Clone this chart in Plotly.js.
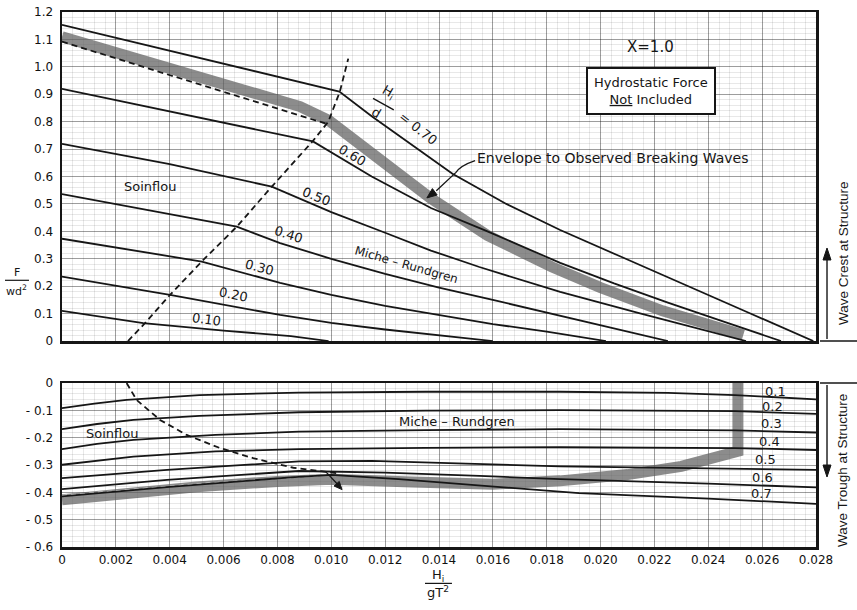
<!DOCTYPE html>
<html><head><meta charset="utf-8">
<script src="https://cdn.plot.ly/plotly-3.0.1.min.js"></script>
<style>html,body{margin:0;padding:0;background:#fff}#chart{width:857px;height:610px}</style>
</head><body><div id="chart"></div>
<script>
// ---------- DATA ----------
// Upper panel: wave crest at structure, F/wd^2 vs Hi/gT^2 for Hi/d values
const crest010X = [0, 0.00302, 0.006, 0.0085, 0.0099];
const crest010Y = [0.110, 0.065, 0.038, 0.018, 0.0];
const crest020X = [0, 0.00401, 0.0081, 0.010, 0.012, 0.014, 0.016];
const crest020Y = [0.235, 0.168, 0.095, 0.066, 0.042, 0.020, 0.0];
const crest030X = [0, 0.00519, 0.0081, 0.010, 0.012, 0.014, 0.016, 0.018, 0.0192, 0.0202];
const crest030Y = [0.373, 0.290, 0.212, 0.168, 0.128, 0.094, 0.062, 0.034, 0.016, 0.0];
const crest040X = [0, 0.00649, 0.0081, 0.010, 0.012, 0.014, 0.016, 0.0185, 0.0205, 0.0225];
const crest040Y = [0.536, 0.417, 0.357, 0.300, 0.245, 0.195, 0.150, 0.092, 0.045, 0.0];
const crest050X = [0, 0.004, 0.00779, 0.010, 0.012, 0.0137, 0.0155, 0.0185, 0.0215, 0.0235, 0.0254];
const crest050Y = [0.719, 0.645, 0.563, 0.470, 0.395, 0.330, 0.270, 0.179, 0.100, 0.050, 0.0];
const crest060X = [0, 0.00932, 0.0115, 0.0137, 0.0158, 0.0185, 0.0205, 0.0225, 0.0246, 0.0267];
const crest060Y = [0.920, 0.728, 0.600, 0.485, 0.400, 0.285, 0.210, 0.140, 0.070, 0.0];
const crest070X = [0, 0.0103, 0.0115, 0.013, 0.0145, 0.0165, 0.0185, 0.0207, 0.023, 0.0255, 0.0279];
const crest070Y = [1.153, 0.910, 0.820, 0.715, 0.610, 0.500, 0.405, 0.310, 0.210, 0.103, 0.0];
const crestEnvX = [0, 0.003, 0.006, 0.00884, 0.0099, 0.0115, 0.0137, 0.0158, 0.0182, 0.020, 0.0223, 0.024, 0.0253];
const crestEnvY = [1.110, 1.025, 0.940, 0.855, 0.805, 0.685, 0.520, 0.385, 0.270, 0.195, 0.110, 0.060, 0.022];
const crestSoinEnvX = [0, 0.0099];
const crestSoinEnvY = [1.092, 0.790];
const crestLimitX = [0.00245, 0.00308, 0.00401, 0.00519, 0.00649, 0.00779, 0.00932, 0.00989, 0.01032, 0.01063];
const crestLimitY = [0, 0.065, 0.168, 0.290, 0.417, 0.563, 0.730, 0.800, 0.910, 1.030];

// Lower panel: wave trough at structure
const trough01X = [0, 0.0012, 0.0024, 0.0051, 0.0088, 0.0135, 0.0185, 0.0225, 0.025, 0.028];
const trough01Y = [-0.092, -0.075, -0.062, -0.044, -0.035, -0.032, -0.032, -0.036, -0.044, -0.060];
const trough02X = [0, 0.0013, 0.00265, 0.0051, 0.0088, 0.0135, 0.0185, 0.025, 0.028];
const trough02Y = [-0.169, -0.150, -0.135, -0.120, -0.107, -0.101, -0.099, -0.103, -0.113];
const trough03X = [0, 0.0013, 0.00265, 0.0057, 0.0088, 0.0135, 0.0185, 0.025, 0.028];
const trough03Y = [-0.242, -0.223, -0.208, -0.190, -0.178, -0.172, -0.169, -0.173, -0.181];
const trough04X = [0, 0.00265, 0.0057, 0.0088, 0.0135, 0.0185, 0.025, 0.028];
const trough04Y = [-0.299, -0.269, -0.250, -0.242, -0.237, -0.235, -0.238, -0.245];
const trough05X = [0, 0.0039, 0.0088, 0.0115, 0.015, 0.0185, 0.024, 0.028];
const trough05Y = [-0.348, -0.318, -0.287, -0.285, -0.295, -0.305, -0.312, -0.318];
const trough06X = [0, 0.0039, 0.0088, 0.012, 0.0155, 0.0185, 0.024, 0.028];
const trough06Y = [-0.388, -0.354, -0.322, -0.328, -0.340, -0.352, -0.368, -0.382];
const trough07X = [0, 0.004, 0.0085, 0.010, 0.0125, 0.0145, 0.017, 0.0192, 0.024, 0.028];
const trough07Y = [-0.415, -0.380, -0.345, -0.336, -0.352, -0.368, -0.386, -0.403, -0.423, -0.442];
const troughEnvX = [0, 0.002, 0.005, 0.008, 0.010, 0.013, 0.016, 0.0185, 0.021, 0.023, 0.0245, 0.0251, 0.0251];
const troughEnvY = [-0.427, -0.407, -0.380, -0.360, -0.352, -0.362, -0.370, -0.358, -0.335, -0.305, -0.270, -0.250, 0];
const troughSoinEnvX = [0, 0.005, 0.0098];
const troughSoinEnvY = [-0.412, -0.370, -0.337];
const troughLimitX = [0.0024, 0.00277, 0.00364, 0.00463, 0.00587, 0.0071, 0.00859, 0.0097, 0.0102];
const troughLimitY = [0, -0.062, -0.135, -0.190, -0.238, -0.275, -0.310, -0.325, -0.330];

// Tick labels
const xTickVals = [0,0.002,0.004,0.006,0.008,0.010,0.012,0.014,0.016,0.018,0.020,0.022,0.024,0.026,0.028];
const xTickText = ['0','0.002','0.004','0.006','0.008','0.010','0.012','0.014','0.016','0.018','0.020','0.022','0.024','0.026','0.028'];
const crestTickVals = [0,0.1,0.2,0.3,0.4,0.5,0.6,0.7,0.8,0.9,1.0,1.1,1.2];
const crestTickText = ['0','0.1','0.2','0.3','0.4','0.5','0.6','0.7','0.8','0.9','1.0','1.1','1.2'];
const troughTickVals = [-0.6,-0.5,-0.4,-0.3,-0.2,-0.1,0];
const troughTickText = ['- 0.6','- 0.5','- 0.4','- 0.3','- 0.2','- 0.1','0'];

// ---------- CHART ----------
const FF = 'DejaVu Sans, Liberation Sans, sans-serif';
const INK = '#161616';
const traces = [];
function line(x, y, top, style) {
  traces.push(Object.assign({
    type: 'scatter', mode: 'lines', x: x, y: y,
    xaxis: top ? 'x' : 'x2', yaxis: top ? 'y' : 'y2',
    hoverinfo: 'skip', showlegend: false,
    line: {color: INK, width: 1.8}
  }, style || {}));
}
const band = {line: {color: 'rgba(95,95,95,0.72)', width: 11}};
const dashed = {line: {color: INK, width: 1.8, dash: '6px,4px'}};
const softDash = {line: {color: 'rgba(255,255,255,0.8)', width: 1.4, dash: '5px,4px'}};

line(crestEnvX, crestEnvY, true, band);
line(troughEnvX, troughEnvY, false, band);
line(crestSoinEnvX, crestSoinEnvY, true, dashed);
line(troughSoinEnvX, troughSoinEnvY, false, softDash);
[[crest010X,crest010Y],[crest020X,crest020Y],[crest030X,crest030Y],[crest040X,crest040Y],
 [crest050X,crest050Y],[crest060X,crest060Y],[crest070X,crest070Y]].forEach(c => line(c[0], c[1], true));
[[trough01X,trough01Y],[trough02X,trough02Y],[trough03X,trough03Y],[trough04X,trough04Y],
 [trough05X,trough05Y],[trough06X,trough06Y],[trough07X,trough07Y]].forEach(c => line(c[0], c[1], false));
line(crestLimitX, crestLimitY, true, dashed);
line(troughLimitX, troughLimitY, false, dashed);

const ann = [];
function fnt(size, fam) { return {family: fam || FF, size: size, color: INK}; }
function txt(text, x, y, top, opts) {
  ann.push(Object.assign({text: text, x: x, y: y, xref: top ? 'x' : 'x2', yref: top ? 'y' : 'y2',
    xanchor: 'center', yanchor: 'middle', showarrow: false, font: fnt(12)}, opts || {}));
}
function ptxt(text, x, y, opts) {
  ann.push(Object.assign({text: text, x: x, y: y, xref: 'paper', yref: 'paper',
    xanchor: 'center', yanchor: 'middle', showarrow: false, font: fnt(12)}, opts || {}));
}
// upper panel labels
txt('0.60', 0.01080, 0.678, true, {textangle: 31, font: fnt(13)});
txt('0.50', 0.00945, 0.528, true, {textangle: 22, font: fnt(13)});
txt('0.40', 0.00842, 0.387, true, {textangle: 18, font: fnt(13)});
txt('0.30', 0.00735, 0.268, true, {textangle: 15, font: fnt(13)});
txt('0.20', 0.00635, 0.170, true, {textangle: 12, font: fnt(13)});
txt('0.10', 0.00538, 0.080, true, {textangle: 8, font: fnt(13)});
txt('Soinflou', 0.00327, 0.562, true, {font: fnt(13)});
txt('Miche – Rundgren', 0.01281, 0.277, true, {textangle: 16, font: fnt(12)});
txt('H<sub>i</sub>', 0.01212, 0.905, true, {textangle: 30, font: fnt(13)});
txt('d', 0.01165, 0.832, true, {textangle: 30, font: fnt(13)});
txt('= 0.70', 0.01322, 0.774, true, {textangle: 38, font: fnt(13)});
txt('Envelope to Observed Breaking Waves', 0.01534, 0.668, true, {xanchor: 'left', font: fnt(14)});
txt('Χ=1.0', 0.02184, 1.073, true, {font: fnt(15)});
txt('Hydrostatic Force<br><u>Not</u> Included', 0.02187, 0.912, true,
    {bordercolor: INK, borderwidth: 2, borderpad: 6, bgcolor: '#fff', font: fnt(13)});
// lower panel labels
txt('Soinflou', 0.00186, -0.185, false, {font: fnt(13)});
txt('Miche – Rundgren', 0.01467, -0.139, false, {font: fnt(13)});
const lowLab = ['0.1','0.2','0.3','0.4','0.5','0.6','0.7'];
const lowLabX = [0.02651, 0.0264, 0.02633, 0.02626, 0.02614, 0.02603, 0.02596];
const lowLabY = [-0.030, -0.086, -0.147, -0.214, -0.281, -0.344, -0.405];
lowLab.forEach((t, i) => txt(t, lowLabX[i], lowLabY[i], false, {font: fnt(13)}));
// axis titles and side notes
ptxt('F', -0.0597, 0.514, {font: fnt(11)});
ptxt('wd<sup>2</sup>', -0.0597, 0.479, {font: fnt(11)});
ptxt('H<sub>i</sub>', 0.4987, -0.0542, {font: fnt(13)});
ptxt('gT<sup>2</sup>', 0.4987, -0.0842, {font: fnt(13)});
ptxt('Wave Crest at Structure', 1.0358, 0.5495, {textangle: -90, font: fnt(13.5, 'Liberation Sans, Arial, sans-serif')});
ptxt('Wave Trough at Structure', 1.0358, 0.144, {textangle: -90, font: fnt(13.5, 'Liberation Sans, Arial, sans-serif')});

// pointer arrows drawn as shapes (stem + pixel-sized head)
function head(xref, yref, x, y, path) {
  return {type: 'path', xref: xref, yref: yref, xsizemode: 'pixel', ysizemode: 'pixel',
    xanchor: x, yanchor: y, path: path, fillcolor: INK, line: {color: INK, width: 1}};
}
const shapes = [
  {type: 'line', xref: 'paper', yref: 'paper', x0: 1.0053, x1: 1.06, y0: 0.385, y1: 0.385, line: {color: INK, width: 1.5}},
  {type: 'line', xref: 'paper', yref: 'paper', x0: 1.0053, x1: 1.06, y0: 0.3065, y1: 0.3065, line: {color: INK, width: 1.5}},
  {type: 'line', xref: 'paper', yref: 'paper', x0: -0.0756, x1: -0.0438, y0: 0.4985, y1: 0.4985, line: {color: INK, width: 1.2}},
  {type: 'line', xref: 'paper', yref: 'paper', x0: 0.4814, x1: 0.5172, y0: -0.0680, y1: -0.0680, line: {color: INK, width: 1.2}},
  {type: 'line', xref: 'x', yref: 'y', x0: 0.01155, x1: 0.01232, y0: 0.885, y1: 0.843, line: {color: INK, width: 1.4}},
  // crest arrow (up)
  {type: 'line', xref: 'paper', yref: 'paper', x0: 1.0146, x1: 1.0146, y0: 0.389, y1: 0.545, line: {color: INK, width: 1.4}},
  head('paper', 'paper', 1.0146, 0.5589, 'M0,0 L-4,-12 L4,-12 Z'),
  // trough arrow (down)
  {type: 'line', xref: 'paper', yref: 'paper', x0: 1.0146, x1: 1.0146, y0: 0.303, y1: 0.145, line: {color: INK, width: 1.4}},
  head('paper', 'paper', 1.0146, 0.1308, 'M0,0 L-4,12 L4,12 Z'),
  // envelope leader
  {type: 'path', xref: 'x', yref: 'y', path: 'M0.01534,0.658 Q0.0148,0.640 0.01463,0.615 L0.01390,0.548',
    line: {color: INK, width: 1.3}},
  head('x', 'y', 0.01355, 0.522, 'M0,0 L10.3,2.9 L5.5,9.3 Z'),
  // small pointer in trough panel
  {type: 'line', xref: 'x2', yref: 'y2', x0: 0.0098, x1: 0.01025, y0: -0.325, y1: -0.372, line: {color: INK, width: 1.3}},
  head('x2', 'y2', 0.0104, -0.39, 'M0,0 L-2.8,8.2 L-8,3.6 Z')
];

function xAx(anchor, labels) {
  return {anchor: anchor, domain: [0, 1], range: [0, 0.028], tickmode: 'array', tickvals: xTickVals, ticktext: xTickText,
    showticklabels: labels, ticks: '', tickfont: {family: FF, size: 12, color: '#111'},
    showgrid: true, gridcolor: 'rgba(0,0,0,0.32)', gridwidth: 1,
    minor: {dtick: 0.0004, tick0: 0, showgrid: true, gridcolor: 'rgba(0,0,0,0.09)', gridwidth: 1},
    showline: true, linecolor: INK, linewidth: 2.5, mirror: true, zeroline: false, fixedrange: true};
}
function yAx(anchor, dom, rng, vals, text) {
  return {anchor: anchor, domain: dom, range: rng, tickmode: 'array', tickvals: vals, ticktext: text,
    ticks: '', ticklabelstandoff: 4, tickfont: {family: FF, size: 12, color: '#111'},
    showgrid: true, gridcolor: 'rgba(0,0,0,0.32)', gridwidth: 1,
    minor: {dtick: 0.02, tick0: 0, showgrid: true, gridcolor: 'rgba(0,0,0,0.09)', gridwidth: 1},
    showline: true, linecolor: INK, linewidth: 2.5, mirror: true, zeroline: false, fixedrange: true};
}

const layout = {
  width: 857, height: 610, margin: {l: 62, r: 41, t: 12, b: 63},
  paper_bgcolor: '#fff', plot_bgcolor: '#fff', showlegend: false,
  font: {family: FF, color: INK},
  xaxis: xAx('y', false),
  yaxis: yAx('x', [0.385, 1], [0, 1.2], crestTickVals, crestTickText),
  xaxis2: xAx('y2', true),
  yaxis2: yAx('x2', [0, 0.3065], [-0.6, 0], troughTickVals, troughTickText),
  annotations: ann, shapes: shapes
};
Plotly.newPlot('chart', traces, layout, {displayModeBar: false, staticPlot: true});
</script></body></html>
